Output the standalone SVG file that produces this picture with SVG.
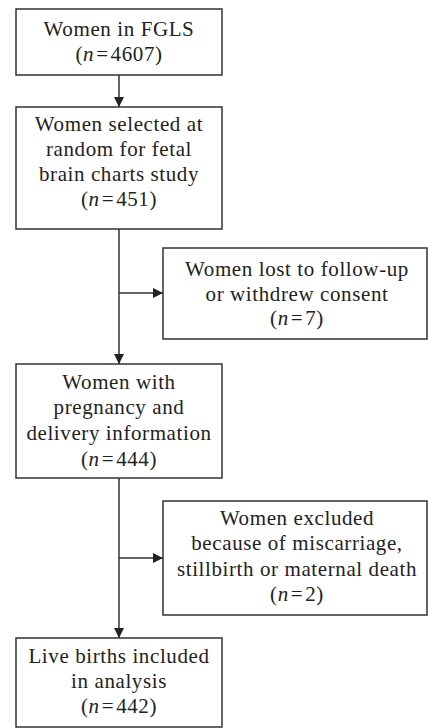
<svg xmlns="http://www.w3.org/2000/svg" width="428" height="728" viewBox="0 0 428 728">
<style>
.box{fill:#fff;stroke:#333;stroke-width:1.5}
.t{font-family:"Liberation Serif","Times New Roman",serif;font-size:21px;fill:#222;text-anchor:middle;letter-spacing:0.6px}
.i{font-style:italic}
.c{fill:none;stroke:#333;stroke-width:1.5}
</style>
<defs>
<marker id="ah" viewBox="0 0 10 10" refX="10" refY="5" markerWidth="10" markerHeight="10" markerUnits="userSpaceOnUse" orient="auto">
<path d="M0,0 L10,5 L0,10 Z" fill="#222"/>
</marker>
</defs>
<rect width="428" height="728" fill="#fff"/>
<g id="connectors">
<line class="c" x1="119" y1="75" x2="119" y2="107" marker-end="url(#ah)"/>
<line class="c" x1="119" y1="229" x2="119" y2="364" marker-end="url(#ah)"/>
<line class="c" x1="119" y1="293" x2="163" y2="293" marker-end="url(#ah)"/>
<line class="c" x1="119" y1="478" x2="119" y2="638" marker-end="url(#ah)"/>
<line class="c" x1="119" y1="558" x2="163" y2="558" marker-end="url(#ah)"/>
</g>
<g id="n1">
<rect class="box" x="16" y="9" width="206" height="66"/>
<text class="t" x="119" y="36">Women in FGLS</text>
<text class="t" x="119" y="61">(<tspan class="i">n</tspan><tspan dx="2">=</tspan><tspan dx="2">4607)</tspan></text>
</g>
<g id="n2">
<rect class="box" x="16" y="107" width="206" height="122"/>
<text class="t" x="119" y="131">Women selected at</text>
<text class="t" x="119" y="156">random for fetal</text>
<text class="t" x="119" y="181">brain charts study</text>
<text class="t" x="119" y="206">(<tspan class="i">n</tspan><tspan dx="2">=</tspan><tspan dx="2">451)</tspan></text>
</g>
<g id="n3">
<rect class="box" x="163" y="248" width="264" height="91"/>
<text class="t" x="297" y="276">Women lost to follow-up</text>
<text class="t" x="297" y="301">or withdrew consent</text>
<text class="t" x="297" y="325">(<tspan class="i">n</tspan><tspan dx="2">=</tspan><tspan dx="2">7)</tspan></text>
</g>
<g id="n4">
<rect class="box" x="16" y="364" width="206" height="114"/>
<text class="t" x="119" y="389">Women with</text>
<text class="t" x="119" y="414">pregnancy and</text>
<text class="t" x="119" y="440">delivery information</text>
<text class="t" x="119" y="466">(<tspan class="i">n</tspan><tspan dx="2">=</tspan><tspan dx="2">444)</tspan></text>
</g>
<g id="n5">
<rect class="box" x="163" y="501" width="264" height="114"/>
<text class="t" x="297" y="525">Women excluded</text>
<text class="t" x="297" y="550">because of miscarriage,</text>
<text class="t" x="297" y="576">stillbirth or maternal death</text>
<text class="t" x="297" y="601">(<tspan class="i">n</tspan><tspan dx="2">=</tspan><tspan dx="2">2)</tspan></text>
</g>
<g id="n6">
<rect class="box" x="16" y="638" width="206" height="89"/>
<text class="t" x="119" y="663">Live births included</text>
<text class="t" x="119" y="688">in analysis</text>
<text class="t" x="119" y="713">(<tspan class="i">n</tspan><tspan dx="2">=</tspan><tspan dx="2">442)</tspan></text>
</g>
</svg>
